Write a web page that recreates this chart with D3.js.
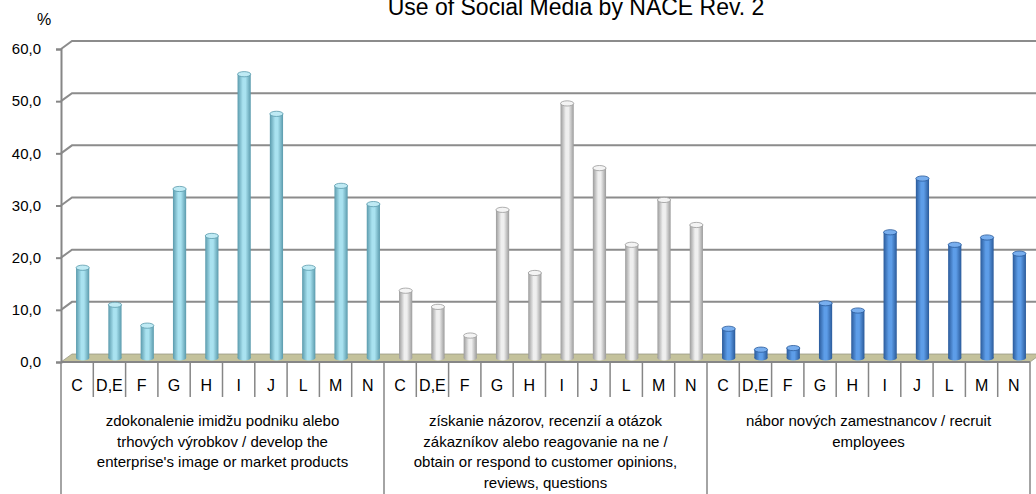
<!DOCTYPE html>
<html lang="en">
<head>
<meta charset="UTF-8">
<title>Use of Social Media by NACE Rev. 2</title>
<style>
    body { margin: 0; background: #fff; }
    svg text { font-family: 'Liberation Sans', Arial, sans-serif; fill: #000; }
</style>
<script src="https://d3js.org/d3.v7.min.js"></script>
</head>
<body>
<svg width="1036" height="494"></svg>
<script>
// data
const categories = ["C", "D,E", "F", "G", "H", "I", "J", "L", "M", "N"];
const groupLabels = [
    ["zdokonalenie imidžu podniku alebo", "trhových výrobkov / develop the", "enterprise's image or market products"],
    ["získanie názorov, recenzií a otázok", "zákazníkov alebo reagovanie na ne /", "obtain or respond to customer opinions,", "reviews, questions"],
    ["nábor nových zamestnancov / recruit", "employees"]
];
const imageValues   = [17.3, 10.2, 6.2, 32.4, 23.4, 54.4, 46.8, 17.3, 33.0, 29.5];
const opinionValues = [12.9, 9.8, 4.3, 28.4, 16.3, 48.8, 36.4, 21.7, 30.3, 25.5];
const recruitValues = [5.6, 1.6, 1.9, 10.5, 9.1, 24.1, 34.4, 21.7, 23.1, 20.0];
const yTicks = [0, 10, 20, 30, 40, 50, 60];

const seriesValues = [imageValues, opinionValues, recruitValues];
const palette = [
    { edge: "#5a9aac", mid: "#a9e2f0", top: "#bfeaf4" },
    { edge: "#9b9b9b", mid: "#efefef", top: "#f4f4f4" },
    { edge: "#2a5a9a", mid: "#5d9de8", top: "#78aeee" }
];

const rows = [];
seriesValues.forEach((vals, g) => {
    categories.forEach((c, i) => rows.push({ key: g + "|" + c, group: g, cat: c, value: vals[i] }));
});

const svg = d3.select("svg");
const depthX = 11, depthY = -8;

const x = d3.scaleBand()
    .domain(rows.map(d => d.key))
    .range([61, 1030])
    .padding(0);

const y = d3.scaleLinear()
    .domain([0, 60])
    .range([362, 49]);

// gradients for cylinders
const defs = svg.append("defs");
palette.forEach((p, i) => {
    const gr = defs.append("linearGradient").attr("id", "cyl" + i)
        .attr("x1", "0%").attr("x2", "100%").attr("y1", "0%").attr("y2", "0%");
    gr.append("stop").attr("offset", "0%").attr("stop-color", p.edge);
    gr.append("stop").attr("offset", "40%").attr("stop-color", p.mid);
    gr.append("stop").attr("offset", "60%").attr("stop-color", p.mid);
    gr.append("stop").attr("offset", "100%").attr("stop-color", p.edge);
});

// floor
svg.append("path")
    .attr("d", `M61,${y(0)} L${61 + depthX},${y(0) + depthY} L1041,${y(0) + depthY} L1030,${y(0)} Z`)
    .attr("fill", "#c4c29c")
    .attr("stroke", "#9a9a86")
    .attr("stroke-width", 0.8);

// gridlines (back wall)
svg.append("g").selectAll("path")
    .data(yTicks.filter(t => t > 0))
    .enter().append("path")
    .attr("d", t => `M61,${y(t)} L${61 + depthX},${y(t) + depthY} L1036,${y(t) + depthY}`)
    .attr("fill", "none")
    .attr("stroke", "#8c8c8c")
    .attr("stroke-width", 2);

// y axis
const yAxis = svg.append("g")
    .attr("transform", "translate(61,0)")
    .call(d3.axisLeft(y).tickValues(yTicks).tickSize(5).tickPadding(15)
        .tickFormat(d => d3.format(".1f")(d).replace(".", ",")));
yAxis.select(".domain").attr("stroke", "#868686").attr("stroke-width", 2);
yAxis.selectAll(".tick line").attr("stroke", "#868686").attr("stroke-width", 2);
yAxis.selectAll(".tick text").style("font-size", "15px");

svg.append("text")
    .attr("x", 44).attr("y", 25)
    .attr("text-anchor", "middle")
    .style("font-size", "16px")
    .text("%");

// bars as cylinders
const r = 6.6, ry = 2.6;
const bars = svg.append("g").selectAll("g")
    .data(rows)
    .enter().append("g");

bars.each(function (d) {
    const gsel = d3.select(this);
    const p = palette[d.group];
    const cx = x(d.key) + x.bandwidth() / 2 + depthX / 2;
    const yTop = y(d.value) + depthY / 2;
    const yBot = y(0) + depthY / 2;
    gsel.append("ellipse")
        .attr("cx", cx).attr("cy", yBot).attr("rx", r).attr("ry", ry)
        .attr("fill", `url(#cyl${d.group})`);
    gsel.append("rect")
        .attr("x", cx - r).attr("y", yTop)
        .attr("width", r * 2).attr("height", yBot - yTop)
        .attr("fill", `url(#cyl${d.group})`);
    gsel.append("ellipse")
        .attr("cx", cx).attr("cy", yTop).attr("rx", r).attr("ry", ry)
        .attr("fill", p.top)
        .attr("stroke", p.edge)
        .attr("stroke-width", 0.8);
});

// x axis: front line, category separators, group separators
svg.append("line")
    .attr("x1", 61).attr("x2", 1030)
    .attr("y1", y(0)).attr("y2", y(0))
    .attr("stroke", "#868686").attr("stroke-width", 2);

const bounds = rows.map(d => x(d.key)).concat([x.range()[1]]);
svg.append("g").selectAll("line")
    .data(bounds)
    .enter().append("line")
    .attr("x1", d => d).attr("x2", d => d)
    .attr("y1", y(0))
    .attr("y2", (d, i) => i % categories.length === 0 ? 494 : 397)
    .attr("stroke", "#868686")
    .attr("stroke-width", 1.5);

svg.append("g").selectAll("text")
    .data(rows)
    .enter().append("text")
    .attr("x", d => x(d.key) + x.bandwidth() / 2)
    .attr("y", 391)
    .attr("text-anchor", "middle")
    .style("font-size", "16px")
    .text(d => d.cat);

groupLabels.forEach((lines, g) => {
    const x0 = x(g + "|" + categories[0]);
    const x1 = x(g + "|" + categories[categories.length - 1]) + x.bandwidth();
    svg.append("text")
        .attr("text-anchor", "middle")
        .style("font-size", "15px")
        .selectAll("tspan")
        .data(lines)
        .enter().append("tspan")
        .attr("x", (x0 + x1) / 2)
        .attr("y", (d, i) => 426 + i * 20.7)
        .text(d => d);
});

// title
svg.append("text")
    .attr("x", 576).attr("y", 15)
    .attr("text-anchor", "middle")
    .style("font-size", "23px")
    .text("Use of Social Media by NACE Rev. 2");
</script>
</body>
</html>
